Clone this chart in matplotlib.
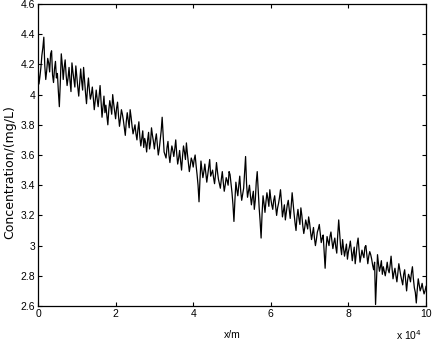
import matplotlib
matplotlib.use("Agg")
import matplotlib.pyplot as plt
from matplotlib.ticker import FuncFormatter
import numpy as np

plt.rcParams["font.family"] = ["Liberation Sans", "DejaVu Sans"]

# distance in units of 1e4 m, readings every 250 m
x_step = 0.025
# readings at 0, 500, 1000 ... m
conc_even = [
    4.20, 4.12, 4.26, 4.38, 4.10, 4.24, 4.15, 4.29, 4.08, 4.22,
    4.14, 3.92, 4.27, 4.10, 4.23, 4.06, 4.18, 4.02, 4.15, 4.05,
    4.12, 3.99, 4.17, 4.03, 4.09, 3.94, 4.11, 3.97, 4.05, 3.90,
    4.03, 3.92, 4.06, 3.85, 3.99, 3.93, 3.80, 3.96, 3.87, 3.94,
    3.84, 3.95, 3.79, 3.90, 3.83, 3.73, 3.88, 3.78, 3.85, 3.74,
    3.80, 3.70, 3.82, 3.66, 3.76, 3.71, 3.62, 3.75, 3.68, 3.73,
    3.64, 3.74, 3.60, 3.70, 3.85, 3.62, 3.58, 3.69, 3.55, 3.66,
    3.59, 3.70, 3.54, 3.63, 3.50, 3.66, 3.57, 3.61, 3.49, 3.58,
    3.52, 3.60, 3.47, 3.29, 3.56, 3.45, 3.54, 3.42, 3.52, 3.46,
    3.50, 3.41, 3.55, 3.44, 3.38, 3.49, 3.36, 3.45, 3.40, 3.47,
    3.35, 3.16, 3.42, 3.33, 3.46, 3.30, 3.38, 3.59, 3.32, 3.40,
    3.27, 3.36, 3.30, 3.49, 3.25, 3.05, 3.33, 3.22, 3.35, 3.26,
    3.31, 3.24, 3.33, 3.20, 3.28, 3.37, 3.19, 3.27, 3.22, 3.30,
    3.18, 3.35, 3.21, 3.10, 3.24, 3.14, 3.20, 3.08, 3.17, 3.11,
    3.15, 3.04, 3.12, 3.00, 3.09, 3.14, 3.02, 3.07, 2.85, 3.06,
    3.00, 3.09, 2.98, 3.05, 2.95, 3.17, 2.99, 3.04, 2.93, 3.01,
    2.96, 3.03, 2.90, 2.99, 2.94, 3.05, 2.89, 2.97, 2.92, 3.00,
    2.88, 2.96, 2.91, 2.84, 2.61, 2.94, 2.83, 2.90, 2.86, 2.80,
    2.89, 2.82, 2.93, 2.78, 2.85, 2.76, 2.88, 2.80, 2.74, 2.84,
    2.70, 2.81, 2.76, 2.86, 2.72, 2.62, 2.78, 2.70, 2.75, 2.68,
    2.73,
]
# readings at 250, 750, 1250 ... m
conc_odd = [
    4.07, 4.18, 4.31, 4.19, 4.16, 4.21, 4.27, 4.13, 4.17, 4.11,
    4.02, 4.08, 4.20, 4.18, 4.13, 4.11, 4.09, 4.21, 4.10, 4.19,
    4.05, 4.08, 4.09, 4.18, 4.01, 4.04, 4.03, 4.00, 3.98, 3.96,
    3.97, 3.99, 3.95, 3.92, 3.88, 3.86, 3.90, 3.92, 4.00, 3.89,
    3.91, 3.86, 3.84, 3.87, 3.78, 3.82, 3.83, 3.90, 3.79, 3.77,
    3.74, 3.77, 3.72, 3.71, 3.65, 3.68, 3.70, 3.64, 3.78, 3.69,
    3.70, 3.67, 3.64, 3.76, 3.73, 3.60, 3.65, 3.60, 3.61, 3.63,
    3.64, 3.61, 3.58, 3.56, 3.59, 3.62, 3.68, 3.55, 3.53, 3.56,
    3.57, 3.53, 3.40, 3.44, 3.50, 3.49, 3.48, 3.47, 3.57, 3.48,
    3.45, 3.47, 3.49, 3.41, 3.44, 3.42, 3.40, 3.43, 3.49, 3.41,
    3.27, 3.30, 3.37, 3.40, 3.36, 3.34, 3.48, 3.41, 3.36, 3.33,
    3.32, 3.24, 3.42, 3.37, 3.16, 3.21, 3.28, 3.29, 3.31, 3.37,
    3.27, 3.30, 3.26, 3.25, 3.32, 3.29, 3.23, 3.17, 3.27, 3.24,
    3.26, 3.28, 3.15, 3.19, 3.18, 3.25, 3.13, 3.12, 3.14, 3.19,
    3.09, 3.08, 3.05, 3.04, 3.11, 3.08, 3.05, 2.96, 2.98, 3.03,
    3.06, 3.03, 3.02, 2.99, 3.07, 3.08, 2.94, 2.98, 2.97, 2.91,
    2.99, 2.97, 2.95, 2.88, 3.01, 2.97, 2.93, 2.94, 2.99, 2.94,
    2.93, 2.94, 2.87, 2.89, 2.78, 2.88, 2.86, 2.81, 2.83, 2.84,
    2.84, 2.87, 2.85, 2.82, 2.80, 2.82, 2.84, 2.77, 2.81, 2.77,
    2.77, 2.79, 2.82, 2.78, 2.69, 2.71, 2.74, 2.72, 2.71, 2.70,
]

concentration = []
for i, c in enumerate(conc_even):
    concentration.append(c)
    if i < len(conc_odd):
        concentration.append(conc_odd[i])
distance = np.arange(len(concentration)) * x_step

fig = plt.figure(figsize=(4.38, 3.44), dpi=100, facecolor="white")
ax = fig.add_axes([38 / 438, 1 - 306 / 344, 388 / 438, 302 / 344])
ax.plot(distance, concentration, color="black", linewidth=0.9)

ax.set_xlim(0, 10)
ax.set_ylim(2.6, 4.6)
ax.set_xticks([0, 2, 4, 6, 8, 10])
ax.set_yticks(np.arange(2.6, 4.61, 0.2))
ax.yaxis.set_major_formatter(FuncFormatter(lambda v, p: f"{v:g}"))
ax.tick_params(direction="in", top=True, right=True, length=3, width=0.8,
               labelsize=7.5, pad=2)
for spine in ax.spines.values():
    spine.set_linewidth(0.9)

ax.set_xlabel("x/m", fontsize=7.5, labelpad=8)
ax.set_ylabel("Concentration/(mg/L)", fontsize=9, family="DejaVu Sans")
ax.yaxis.set_label_coords(-0.056, 0.444)
fig.text(396 / 438, 1 - 342 / 344, r"x 10$^{4}$", fontsize=7.5, ha="left", va="bottom")

fig.savefig("out.png", dpi=100, facecolor="white")
